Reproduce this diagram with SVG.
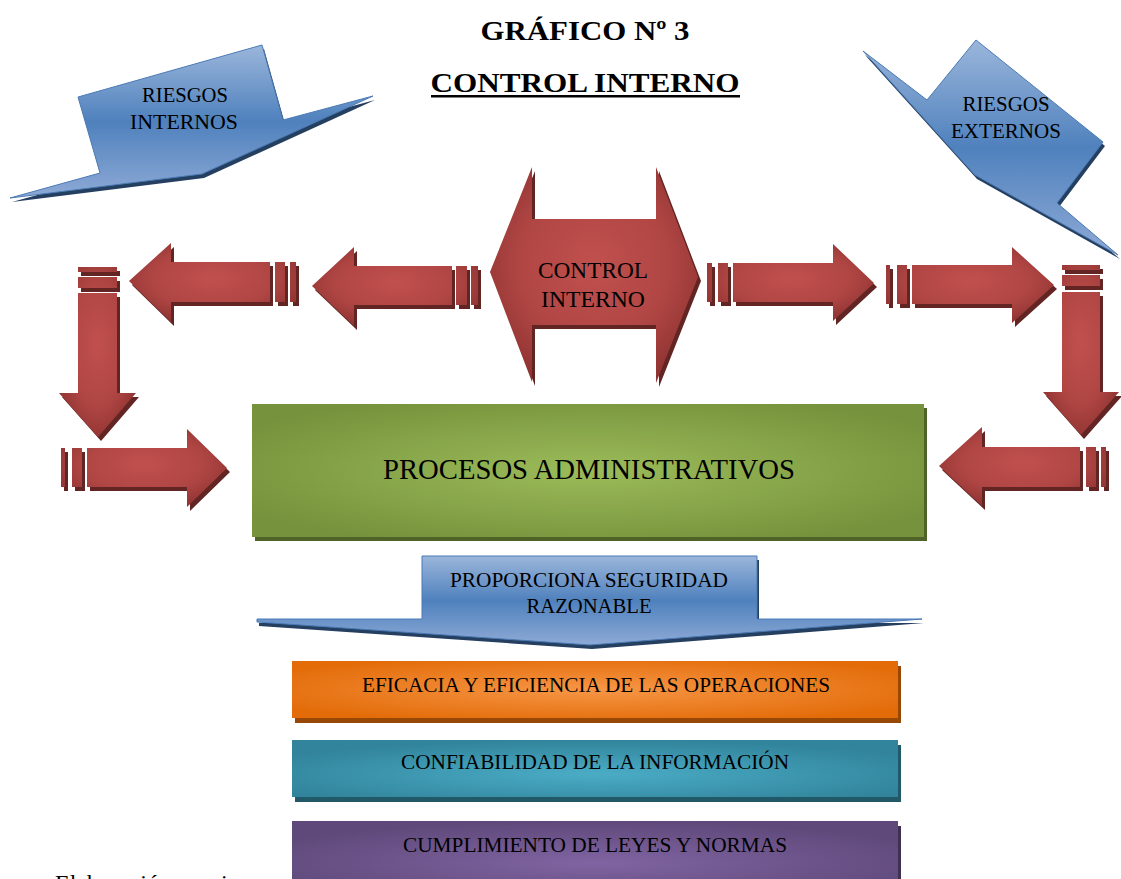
<svg xmlns="http://www.w3.org/2000/svg" xmlns:xlink="http://www.w3.org/1999/xlink" width="1121" height="879" viewBox="0 0 1121 879">
<defs>
<style>
.t{font-family:"Liberation Serif","Times New Roman",serif;fill:#000;text-anchor:middle}
.red{fill:url(#gRed)}
.rsh{fill:#632523}
.blue{fill:url(#gBlue);stroke:#4a7ab5;stroke-width:1}
.bsh{fill:#243f60}
</style>
<radialGradient id="gRed" cx="0.5" cy="0.45" r="0.6">
<stop offset="0" stop-color="#c0504d"/>
<stop offset="0.6" stop-color="#b04644"/>
<stop offset="1" stop-color="#8e3331"/>
</radialGradient>
<linearGradient id="gBlue" x1="0" y1="0" x2="0" y2="1">
<stop offset="0" stop-color="#9bb6db"/>
<stop offset="0.5" stop-color="#4f81bd"/>
<stop offset="1" stop-color="#8eaad6"/>
</linearGradient>
<radialGradient id="gGreen" cx="0.5" cy="0.5" r="0.6">
<stop offset="0" stop-color="#9bbb59"/>
<stop offset="1" stop-color="#76923c"/>
</radialGradient>
<radialGradient id="gOrange" cx="0.5" cy="0.5" r="0.6">
<stop offset="0" stop-color="#f79646"/>
<stop offset="1" stop-color="#e36c09"/>
</radialGradient>
<radialGradient id="gTeal" cx="0.5" cy="0.6" r="0.6">
<stop offset="0" stop-color="#4bacc6"/>
<stop offset="1" stop-color="#31849b"/>
</radialGradient>
<radialGradient id="gPurple" cx="0.5" cy="0.6" r="0.6">
<stop offset="0" stop-color="#8064a2"/>
<stop offset="1" stop-color="#5f497a"/>
</radialGradient>
<path id="pA" d="M129,281 L171,243 L171,262 L270,262 L270,302 L171,302 L171,322 Z M275,262 h10 v40 h-10 Z M290,262 h6 v40 h-6 Z"/>
<path id="pB" d="M312,286 L354,247 L354,266 L452,266 L452,305 L354,305 L354,326 Z M456,266 h11 v39 h-11 Z M471,266 h7 v39 h-7 Z"/>
<path id="pC" d="M874,283 L833,244 L833,263 L733,263 L733,302 L833,302 L833,321 Z M718,263 h10 v39 h-10 Z M707,263 h5 v39 h-5 Z"/>
<path id="pD" d="M1054,285 L1012,247 L1012,265 L912,265 L912,304 L1012,304 L1012,323 Z M897,265 h10 v39 h-10 Z M886,265 h4 v39 h-4 Z"/>
<path id="pE" d="M1081,435 L1043,392 L1062,392 L1062,292 L1100,292 L1100,392 L1119,392 Z M1062,275 h38 v11 h-38 Z M1062,265 h38 v5 h-38 Z"/>
<path id="pF" d="M939,466 L982,427 L982,447 L1080,447 L1080,487 L982,487 L982,506 Z M1086,447 h10 v40 h-10 Z M1101,447 h5 v40 h-5 Z"/>
<path id="pG" d="M98,437 L59,393 L78,393 L78,293 L117,293 L117,393 L136,393 Z M78,277 h39 v11 h-39 Z M78,267 h39 v5 h-39 Z"/>
<path id="pH" d="M227,468 L187,429 L187,448 L87,448 L87,487 L187,487 L187,507 Z M72,448 h10 v39 h-10 Z M61,448 h4 v39 h-4 Z"/>
<path id="pCI" d="M490,272 L532,167 L532,219 L656,219 L656,167 L698,277 L656,383 L656,325 L532,325 L532,382 Z"/>
<path id="pRI" d="M262,45 L78,97 L100,173 L10,198 L202,174 L373,96 L283,120 Z"/>
<path id="pRE" d="M863,51 L927,100 L976,40 L1103,142 L1057,203 L1118,255 L975,175 Z"/>
<path id="pPS" d="M422,556 H757 V619 H922 L590,645 L257,622 V619 H422 Z"/>
</defs>

<g id="titulo">
<text class="t" x="585" y="40" font-size="28" font-weight="bold" textLength="209" lengthAdjust="spacingAndGlyphs">GRÁFICO Nº 3</text>
<text class="t" x="585" y="92" font-size="28" font-weight="bold" textLength="309" lengthAdjust="spacingAndGlyphs">CONTROL INTERNO</text>
<rect x="431" y="95" width="309" height="2.5" fill="#000"/>
</g>

<g id="riesgos-internos">
<use xlink:href="#pRI" class="bsh" x="2" y="4"/>
<use xlink:href="#pRI" class="blue"/>
<text class="t" x="185" y="102" font-size="21" textLength="86" lengthAdjust="spacingAndGlyphs">RIESGOS</text>
<text class="t" x="184" y="129" font-size="21" textLength="108" lengthAdjust="spacingAndGlyphs">INTERNOS</text>
</g>

<g id="riesgos-externos">
<use xlink:href="#pRE" class="bsh" x="2" y="4"/>
<use xlink:href="#pRE" class="blue"/>
<text class="t" x="1006" y="111" font-size="21" textLength="87" lengthAdjust="spacingAndGlyphs">RIESGOS</text>
<text class="t" x="1006" y="138" font-size="21" textLength="110" lengthAdjust="spacingAndGlyphs">EXTERNOS</text>
</g>

<g id="conectores">
<use xlink:href="#pA" class="rsh" x="3" y="4"/>
<use xlink:href="#pA" class="red"/>
<use xlink:href="#pB" class="rsh" x="3" y="4"/>
<use xlink:href="#pB" class="red"/>
<use xlink:href="#pC" class="rsh" x="3" y="4"/>
<use xlink:href="#pC" class="red"/>
<use xlink:href="#pD" class="rsh" x="3" y="4"/>
<use xlink:href="#pD" class="red"/>
<use xlink:href="#pE" class="rsh" x="3" y="4"/>
<use xlink:href="#pE" class="red"/>
<use xlink:href="#pF" class="rsh" x="3" y="4"/>
<use xlink:href="#pF" class="red"/>
<use xlink:href="#pG" class="rsh" x="3" y="4"/>
<use xlink:href="#pG" class="red"/>
<use xlink:href="#pH" class="rsh" x="3" y="4"/>
<use xlink:href="#pH" class="red"/>
</g>

<g id="control-interno">
<use xlink:href="#pCI" class="rsh" x="3" y="4"/>
<use xlink:href="#pCI" class="red"/>
<text class="t" x="593" y="278" font-size="24" textLength="110" lengthAdjust="spacingAndGlyphs">CONTROL</text>
<text class="t" x="593" y="307" font-size="24" textLength="104" lengthAdjust="spacingAndGlyphs">INTERNO</text>
</g>

<g id="procesos">
<rect x="255" y="408" width="672" height="133" fill="#4f6228"/>
<rect x="252" y="404" width="672" height="133" fill="url(#gGreen)"/>
<text class="t" x="589" y="479" font-size="29" textLength="412" lengthAdjust="spacingAndGlyphs">PROCESOS ADMINISTRATIVOS</text>
</g>

<g id="proporciona">
<use xlink:href="#pPS" class="bsh" x="2" y="4"/>
<use xlink:href="#pPS" class="blue"/>
<text class="t" x="589" y="587" font-size="20" textLength="278" lengthAdjust="spacingAndGlyphs">PROPORCIONA SEGURIDAD</text>
<text class="t" x="589" y="613" font-size="20" textLength="125" lengthAdjust="spacingAndGlyphs">RAZONABLE</text>
</g>

<g id="eficacia">
<rect x="295" y="666" width="606" height="57" fill="#984806"/>
<rect x="292" y="661" width="606" height="57" fill="url(#gOrange)"/>
<text class="t" x="596" y="692" font-size="20" textLength="468" lengthAdjust="spacingAndGlyphs">EFICACIA Y EFICIENCIA DE LAS OPERACIONES</text>
</g>

<g id="confiabilidad">
<rect x="295" y="745" width="606" height="57" fill="#215968"/>
<rect x="292" y="740" width="606" height="57" fill="url(#gTeal)"/>
<text class="t" x="595" y="769" font-size="20" textLength="388" lengthAdjust="spacingAndGlyphs">CONFIABILIDAD DE LA INFORMACIÓN</text>
</g>

<text class="t" x="55" y="891" font-size="24" style="text-anchor:start">Elaboración propia</text>

<g id="cumplimiento">
<rect x="295" y="826" width="606" height="70" fill="#3f3151"/>
<rect x="292" y="821" width="606" height="70" fill="url(#gPurple)"/>
<text class="t" x="595" y="852" font-size="20" textLength="384" lengthAdjust="spacingAndGlyphs">CUMPLIMIENTO DE LEYES Y NORMAS</text>
</g>
</svg>
